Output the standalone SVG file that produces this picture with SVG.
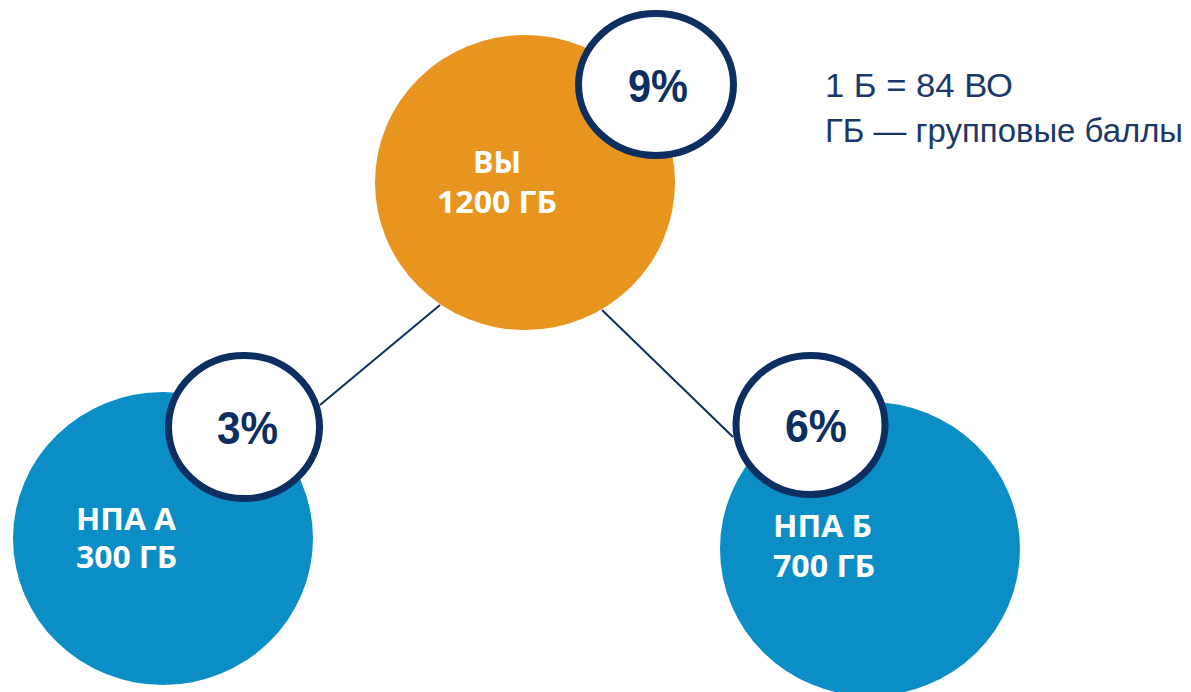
<svg xmlns="http://www.w3.org/2000/svg" width="1191" height="692" viewBox="0 0 1191 692">
  <style>
    .bg { fill: #ffffff; }
    .orange { fill: #E7951E; }
    .blue { fill: #0B8EC5; }
    .badge { fill: #ffffff; stroke: #0D2E60; stroke-width: 7; }
    .conn { stroke: #0D2E60; stroke-width: 2; fill: none; }
    .lbl { font-family: "Open Sans", "Liberation Sans", sans-serif; font-weight: 700; fill: #ffffff; }
    .pct { font-family: "Liberation Sans", Arial, sans-serif; font-weight: 700; fill: #0D2E60; font-size: 46px; }
    .note { font-family: "Liberation Sans", Arial, sans-serif; fill: #1A3868; font-size: 33px; }
  </style>
  <rect class="bg" x="0" y="0" width="1191" height="692"/>
  <g id="connectors">
    <line class="conn" x1="440" y1="305" x2="320" y2="405"/>
    <line class="conn" x1="602" y1="310" x2="733" y2="437"/>
  </g>
  <g id="node-vy">
    <ellipse class="orange" cx="525" cy="182.5" rx="150" ry="147.5"/>
    <text class="lbl" x="497" y="173" font-size="31" text-anchor="middle" textLength="48" lengthAdjust="spacingAndGlyphs">ВЫ</text>
    <text class="lbl" x="497" y="213" font-size="31" text-anchor="middle" textLength="120" lengthAdjust="spacingAndGlyphs">1200 ГБ</text>
  </g>
  <g id="node-npa-a">
    <ellipse class="blue" cx="163" cy="538.5" rx="150" ry="146.5"/>
    <text class="lbl" x="76" y="530" font-size="31" textLength="100" lengthAdjust="spacingAndGlyphs">НПА А</text>
    <text class="lbl" x="76" y="568" font-size="31" textLength="101" lengthAdjust="spacingAndGlyphs">300 ГБ</text>
  </g>
  <g id="node-npa-b">
    <ellipse class="blue" cx="870" cy="549" rx="150" ry="147"/>
    <text class="lbl" x="773" y="537" font-size="31" textLength="99" lengthAdjust="spacingAndGlyphs">НПА Б</text>
    <text class="lbl" x="773" y="577" font-size="31" textLength="102" lengthAdjust="spacingAndGlyphs">700 ГБ</text>
  </g>
  <g id="badge-9">
    <ellipse class="badge" cx="656" cy="84.5" rx="77.5" ry="71"/>
    <text class="pct" x="628" y="102" textLength="60" lengthAdjust="spacingAndGlyphs">9%</text>
  </g>
  <g id="badge-3">
    <ellipse class="badge" cx="244" cy="427" rx="75.5" ry="71.5"/>
    <text class="pct" x="217" y="444" textLength="61" lengthAdjust="spacingAndGlyphs">3%</text>
  </g>
  <g id="badge-6">
    <ellipse class="badge" cx="810.5" cy="425" rx="74.5" ry="69.5"/>
    <text class="pct" x="785" y="442" textLength="62" lengthAdjust="spacingAndGlyphs">6%</text>
  </g>
  <g id="legend">
    <text class="note" x="825" y="97" textLength="188" lengthAdjust="spacingAndGlyphs">1 Б = 84 ВО</text>
    <text class="note" x="825" y="142" textLength="358" lengthAdjust="spacingAndGlyphs">ГБ — групповые баллы</text>
  </g>
</svg>
